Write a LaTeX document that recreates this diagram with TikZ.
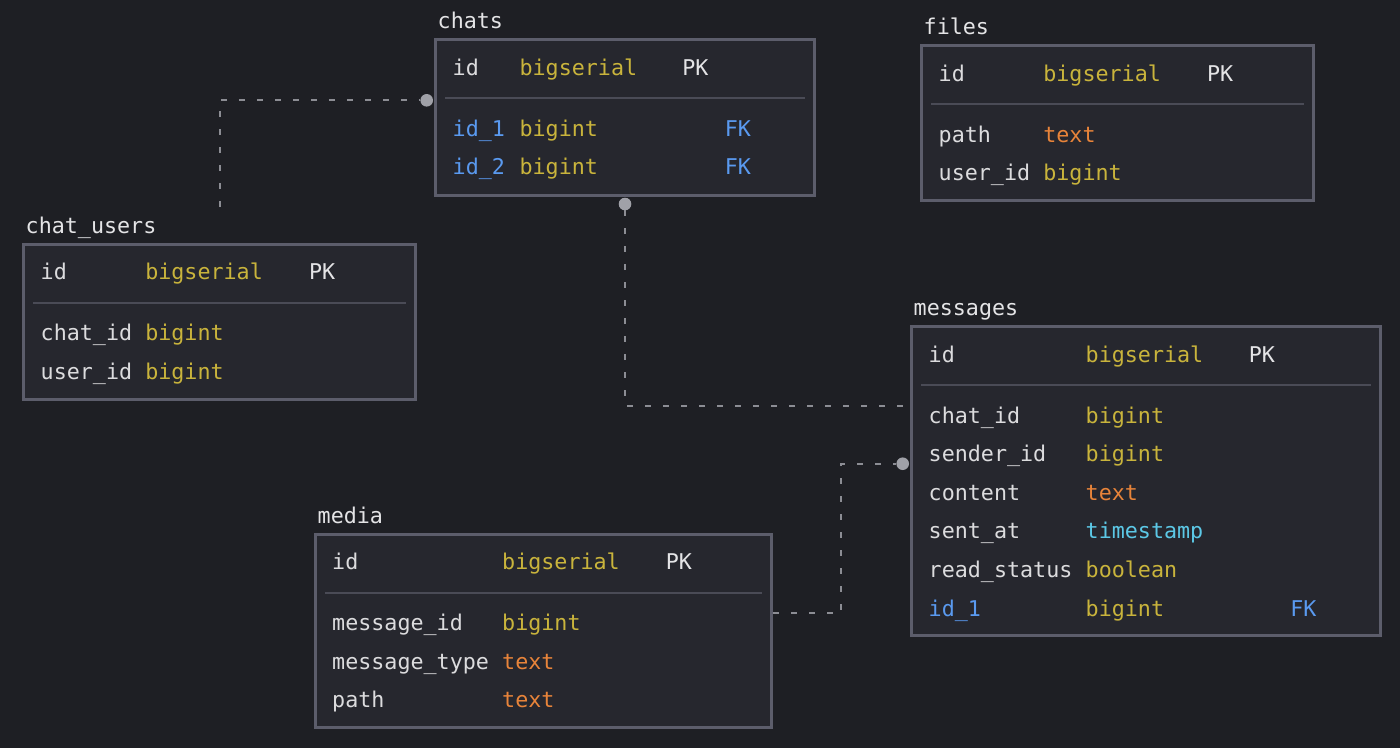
\documentclass[tikz,border=0pt]{standalone}
\usepackage{fontspec}
\setmainfont{DejaVu Sans Mono}
\begin{document}
\definecolor{canvas}{HTML}{1E1F24}
\definecolor{tablefill}{HTML}{26272E}
\definecolor{tableedge}{HTML}{5C5D6B}
\definecolor{ruleline}{HTML}{4A4B56}
\definecolor{linkgray}{HTML}{8C8D94}
\definecolor{dotgray}{HTML}{A0A1A8}
\definecolor{titlecol}{HTML}{E4E4E6}
\definecolor{namecol}{HTML}{DCDCDE}
\definecolor{typeyellow}{HTML}{C9B43C}
\definecolor{typeorange}{HTML}{E8843A}
\definecolor{typecyan}{HTML}{5CC8E6}
\definecolor{keyblue}{HTML}{5A9AF0}
\begin{tikzpicture}[x=1pt,y=-1pt,
  every node/.style={font=\fontsize{21.7}{26}\selectfont},
  tablebox/.style={draw=tableedge, line width=3pt, fill=tablefill, rectangle,
    inner sep=0pt, outer sep=0pt, anchor=north west},
  txt/.style={inner sep=0pt, anchor=base west},
  ttl/.style={txt, text=titlecol},
  fname/.style={txt, text=namecol},
  fkname/.style={txt, text=keyblue},
  tyel/.style={txt, text=typeyellow},
  tora/.style={txt, text=typeorange},
  tcya/.style={txt, text=typecyan},
  pkey/.style={txt, text=titlecol},
  fkey/.style={txt, text=keyblue},
  sepline/.style={draw=ruleline, line width=2pt},
  link/.style={draw=linkgray, line width=2pt, dash pattern=on 6pt off 12pt},
  enddot/.style={circle, fill=dotgray, inner sep=0pt, outer sep=0pt, minimum size=12.6pt}]

\useasboundingbox (0,0) rectangle (1400,748);
\fill[canvas] (0,0) rectangle (1400,748);

% free ends of the connectors
\coordinate (cuTop) at (219.5,207);
\coordinate (msgChatIn) at (910,406);
\coordinate (mediaOut) at (773,613.3);
\coordinate (mediaBend) at (841.3,613.3);

% end dots
\node[enddot] (dotChats) at (426.7,100.3) {};
\node[enddot] (dotChatsBottom) at (625,204) {};
\node[enddot] (dotMessages) at (902.7,463.7) {};

% connectors
\draw[link] (cuTop) |- (dotChats);
\draw[link] (dotChatsBottom) |- (msgChatIn);
\draw[link] (mediaOut) -- (mediaBend) |- (dotMessages);

% ---------------- chats
\node[tablebox, minimum width=379pt, minimum height=156pt] (chats) at (435.5,39.5) {};
\node[ttl] (chatsT) at (437.5,28.5) {chats};
\draw[sepline] (445,98) -- (805,98);
\node[fname] (chatsN0) at (452.5,75) {id};
\node[tyel] (chatsY0) at (519.4,75) {bigserial};
\node[pkey] (chatsK0) at (682.1,75) {PK};
\node[fkname] (chatsN1) at (452.5,136) {id\_1};
\node[tyel] (chatsY1) at (519.4,136) {bigint};
\node[fkey] (chatsK1) at (724.6,136) {FK};
\node[fkname] (chatsN2) at (452.5,174.6) {id\_2};
\node[tyel] (chatsY2) at (519.4,174.6) {bigint};
\node[fkey] (chatsK2) at (724.6,174.6) {FK};

% ---------------- files
\node[tablebox, minimum width=392pt, minimum height=155pt] (files) at (921.5,45.5) {};
\node[ttl] (filesT) at (923.5,34.5) {files};
\draw[sepline] (931,104) -- (1304,104);
\node[fname] (filesN0) at (938.5,81) {id};
\node[tyel] (filesY0) at (1043.1,81) {bigserial};
\node[pkey] (filesK0) at (1206.8,81) {PK};
\node[fname] (filesN1) at (938.5,142) {path};
\node[tora] (filesY1) at (1043.1,142) {text};
\node[fname] (filesN2) at (938.5,180.6) {user\_id};
\node[tyel] (filesY2) at (1043.1,180.6) {bigint};

% ---------------- chat_users
\node[tablebox, minimum width=391.5pt, minimum height=155pt] (chatusers) at (23.5,244) {};
\node[ttl] (chatusersT) at (25.5,233) {chat\_users};
\draw[sepline] (33,302.5) -- (405.5,302.5);
\node[fname] (chatusersN0) at (40.5,279.5) {id};
\node[tyel] (chatusersY0) at (145.1,279.5) {bigserial};
\node[pkey] (chatusersK0) at (308.8,279.5) {PK};
\node[fname] (chatusersN1) at (40.5,340.5) {chat\_id};
\node[tyel] (chatusersY1) at (145.1,340.5) {bigint};
\node[fname] (chatusersN2) at (40.5,379.1) {user\_id};
\node[tyel] (chatusersY2) at (145.1,379.1) {bigint};

% ---------------- messages
\node[tablebox, minimum width=469pt, minimum height=309pt] (messages) at (911.5,326.5) {};
\node[ttl] (messagesT) at (913.5,315.5) {messages};
\draw[sepline] (921,385) -- (1371,385);
\node[fname] (messagesN0) at (928.5,362) {id};
\node[tyel] (messagesY0) at (1085.5,362) {bigserial};
\node[pkey] (messagesK0) at (1248.7,362) {PK};
\node[fname] (messagesN1) at (928.5,423) {chat\_id};
\node[tyel] (messagesY1) at (1085.5,423) {bigint};
\node[fname] (messagesN2) at (928.5,461.6) {sender\_id};
\node[tyel] (messagesY2) at (1085.5,461.6) {bigint};
\node[fname] (messagesN3) at (928.5,500.2) {content};
\node[tora] (messagesY3) at (1085.5,500.2) {text};
\node[fname] (messagesN4) at (928.5,538.8) {sent\_at};
\node[tcya] (messagesY4) at (1085.5,538.8) {timestamp};
\node[fname] (messagesN5) at (928.5,577.4) {read\_status};
\node[tyel] (messagesY5) at (1085.5,577.4) {boolean};
\node[fkname] (messagesN6) at (928.5,616) {id\_1};
\node[tyel] (messagesY6) at (1085.5,616) {bigint};
\node[fkey] (messagesK6) at (1290.2,616) {FK};

% ---------------- media
\node[tablebox, minimum width=456pt, minimum height=193.5pt] (media) at (315.5,534) {};
\node[ttl] (mediaT) at (317.5,523) {media};
\draw[sepline] (325,592.5) -- (762,592.5);
\node[fname] (mediaN0) at (332,569.5) {id};
\node[tyel] (mediaY0) at (502,569.5) {bigserial};
\node[pkey] (mediaK0) at (665.7,569.5) {PK};
\node[fname] (mediaN1) at (332,630.5) {message\_id};
\node[tyel] (mediaY1) at (502,630.5) {bigint};
\node[fname] (mediaN2) at (332,669.1) {message\_type};
\node[tora] (mediaY2) at (502,669.1) {text};
\node[fname] (mediaN3) at (332,707.7) {path};
\node[tora] (mediaY3) at (502,707.7) {text};
\end{tikzpicture}
\end{document}
